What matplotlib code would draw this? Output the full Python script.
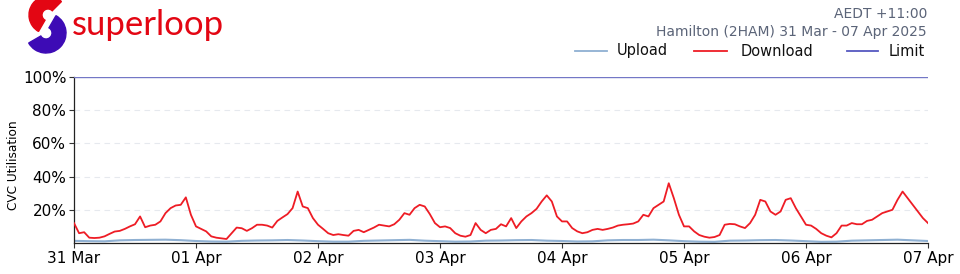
import matplotlib
matplotlib.use("Agg")
import matplotlib.pyplot as plt
from matplotlib.patches import Wedge
import pandas as pd

# ---------------- data ----------------
day_labels = ["31 Mar", "01 Apr", "02 Apr", "03 Apr", "04 Apr", "05 Apr", "06 Apr", "07 Apr"]

download_31mar = [12, 5.9, 6.5, 3.2, 3.0, 3.2, 4.0, 5.5, 6.9, 7.3, 8.5, 10, 11.3, 16, 9.5, 10.5, 11, 13, 18, 21, 22.6, 23, 27.5, 17]
download_01apr = [10, 8.5, 7.0, 4.0, 3.2, 2.8, 2.4, 5.9, 9.3, 8.9, 7.3, 8.9, 11, 11, 10.5, 9.3, 13.3, 15.4, 17.4, 21, 31, 22, 21, 15]
download_02apr = [11, 8.5, 5.9, 4.8, 5.3, 4.8, 4.4, 7.3, 7.9, 6.5, 7.9, 9.3, 11, 10.5, 10, 11.3, 14, 18, 17, 21, 23, 22, 17.4, 12]
download_03apr = [9.5, 10, 9.0, 5.9, 4.4, 3.8, 4.8, 12, 7.9, 5.9, 7.9, 8.5, 11.3, 10, 15, 9.0, 13, 16, 18, 20.6, 25, 28.7, 25, 16]
download_04apr = [13, 13, 9.0, 7.0, 5.9, 6.5, 7.9, 8.5, 7.9, 8.5, 9.3, 10.5, 11, 11.3, 11.7, 13, 17, 16, 21, 23, 25, 36, 27, 17]
download_05apr = [10, 10, 7.0, 4.8, 3.8, 3.2, 3.6, 4.8, 11, 11.5, 11.3, 10, 9.0, 12, 17, 26, 25, 19, 17, 19, 26, 27, 21, 16]
download_06apr = [11, 10.5, 8.5, 5.9, 4.4, 3.4, 5.9, 10.5, 10.5, 12, 11.3, 11.3, 13.3, 14, 16, 18, 19, 20, 26, 31, 27, 23, 19, 15]
download_07apr = [12]

upload_3h = [1.3, 1.1, 1.0, 1.6, 1.8, 1.9, 2.0, 1.7,
             1.2, 0.9, 0.8, 1.3, 1.5, 1.6, 1.8, 1.5,
             1.1, 0.8, 0.8, 1.3, 1.5, 1.7, 1.9, 1.4,
             1.1, 0.8, 0.9, 1.4, 1.5, 1.7, 1.8, 1.4,
             1.2, 0.9, 1.0, 1.6, 1.8, 1.8, 2.0, 1.6,
             1.1, 0.8, 0.7, 1.4, 1.5, 1.7, 1.8, 1.5,
             1.1, 0.7, 0.8, 1.4, 1.6, 1.8, 2.0, 1.6,
             1.2]

limit_value = 100
y_ticks = [20, 40, 60, 80, 100]

download = (download_31mar + download_01apr + download_02apr + download_03apr +
            download_04apr + download_05apr + download_06apr + download_07apr)
t_dl = pd.date_range("2025-03-31 00:00", periods=len(download), freq="h")
t_ul = pd.date_range("2025-03-31 00:00", periods=len(upload_3h), freq="3h")
day_ticks = pd.date_range("2025-03-31", periods=len(day_labels), freq="D")

# ---------------- figure ----------------
W, H = 960, 274
fig = plt.figure(figsize=(W / 100, H / 100), dpi=100)
fig.patch.set_facecolor("white")

ax = fig.add_axes([74 / W, 1 - 243 / H, (928 - 74) / W, (243 - 77) / H])
ax.set_xlim(day_ticks[0], day_ticks[-1])
ax.set_ylim(0, 100)

for v in y_ticks[:-1]:
    ax.axhline(v, color="#e6e9ee", lw=0.8, ls=(0, (5, 4)), zorder=0)

ax.plot(t_ul, upload_3h, color="#8fb0d2", lw=1.5, zorder=2)
ax.plot(t_dl, download, color="#ee1c25", lw=1.3, zorder=3)
ax.axhline(limit_value, color="#7377c6", lw=1.0, zorder=3)

ax.set_yticks(y_ticks)
ax.set_yticklabels([f"{v}%" for v in y_ticks], fontsize=11)
ax.set_xticks(day_ticks)
ax.set_xticklabels(day_labels, fontsize=11)
ax.tick_params(axis="both", length=3.5, width=0.8, color="#333333", pad=2)
ax.set_ylabel("CVC Utilisation", fontsize=8.7)
ax.yaxis.set_label_coords(-54 / (928 - 74), 0.47)
for s in ["top", "right"]:
    ax.spines[s].set_visible(False)
for s in ["left", "bottom"]:
    ax.spines[s].set_color("#222222")
    ax.spines[s].set_linewidth(0.9)

# ---------------- header ----------------
grey = "#5b6478"
fig.text(927 / W, 1 - 14 / H, "AEDT +11:00", ha="right", va="center", fontsize=10, color=grey)
fig.text(927 / W, 1 - 32 / H, "Hamilton (2HAM) 31 Mar - 07 Apr 2025", ha="right", va="center",
         fontsize=10, color=grey)

legend_items = [("Upload", "#8fb0d2", 575, 607, 617),
                ("Download", "#ee1c25", 694, 727, 741),
                ("Limit", "#5558c0", 847, 878, 889)]
for name, col, x0, x1, xt in legend_items:
    fig.add_artist(plt.Line2D([x0 / W, x1 / W], [1 - 51 / H, 1 - 51 / H], color=col, lw=1.3))
    fig.text(xt / W, 1 - 51 / H, name, ha="left", va="center", fontsize=10.5, color="#111111")

# ---------------- logo ----------------
lax = fig.add_axes([20 / W, 1 - 55 / H, 55 / W, 55 / H])
lax.set_xlim(0, 55)
lax.set_ylim(0, 55)
lax.axis("off")
lax.add_patch(Wedge((28, 40), 19, 45, 240, width=13, color="#e30613"))
lax.add_patch(Wedge((26, 22), 20, 210, 420, width=14, color="#3d0bb5"))

fig.text(72 / W, 1 - 35 / H, "superloop", ha="left", va="baseline", fontsize=25,
         family="Lato", color="#e30613")

fig.savefig("out.png", dpi=100)
